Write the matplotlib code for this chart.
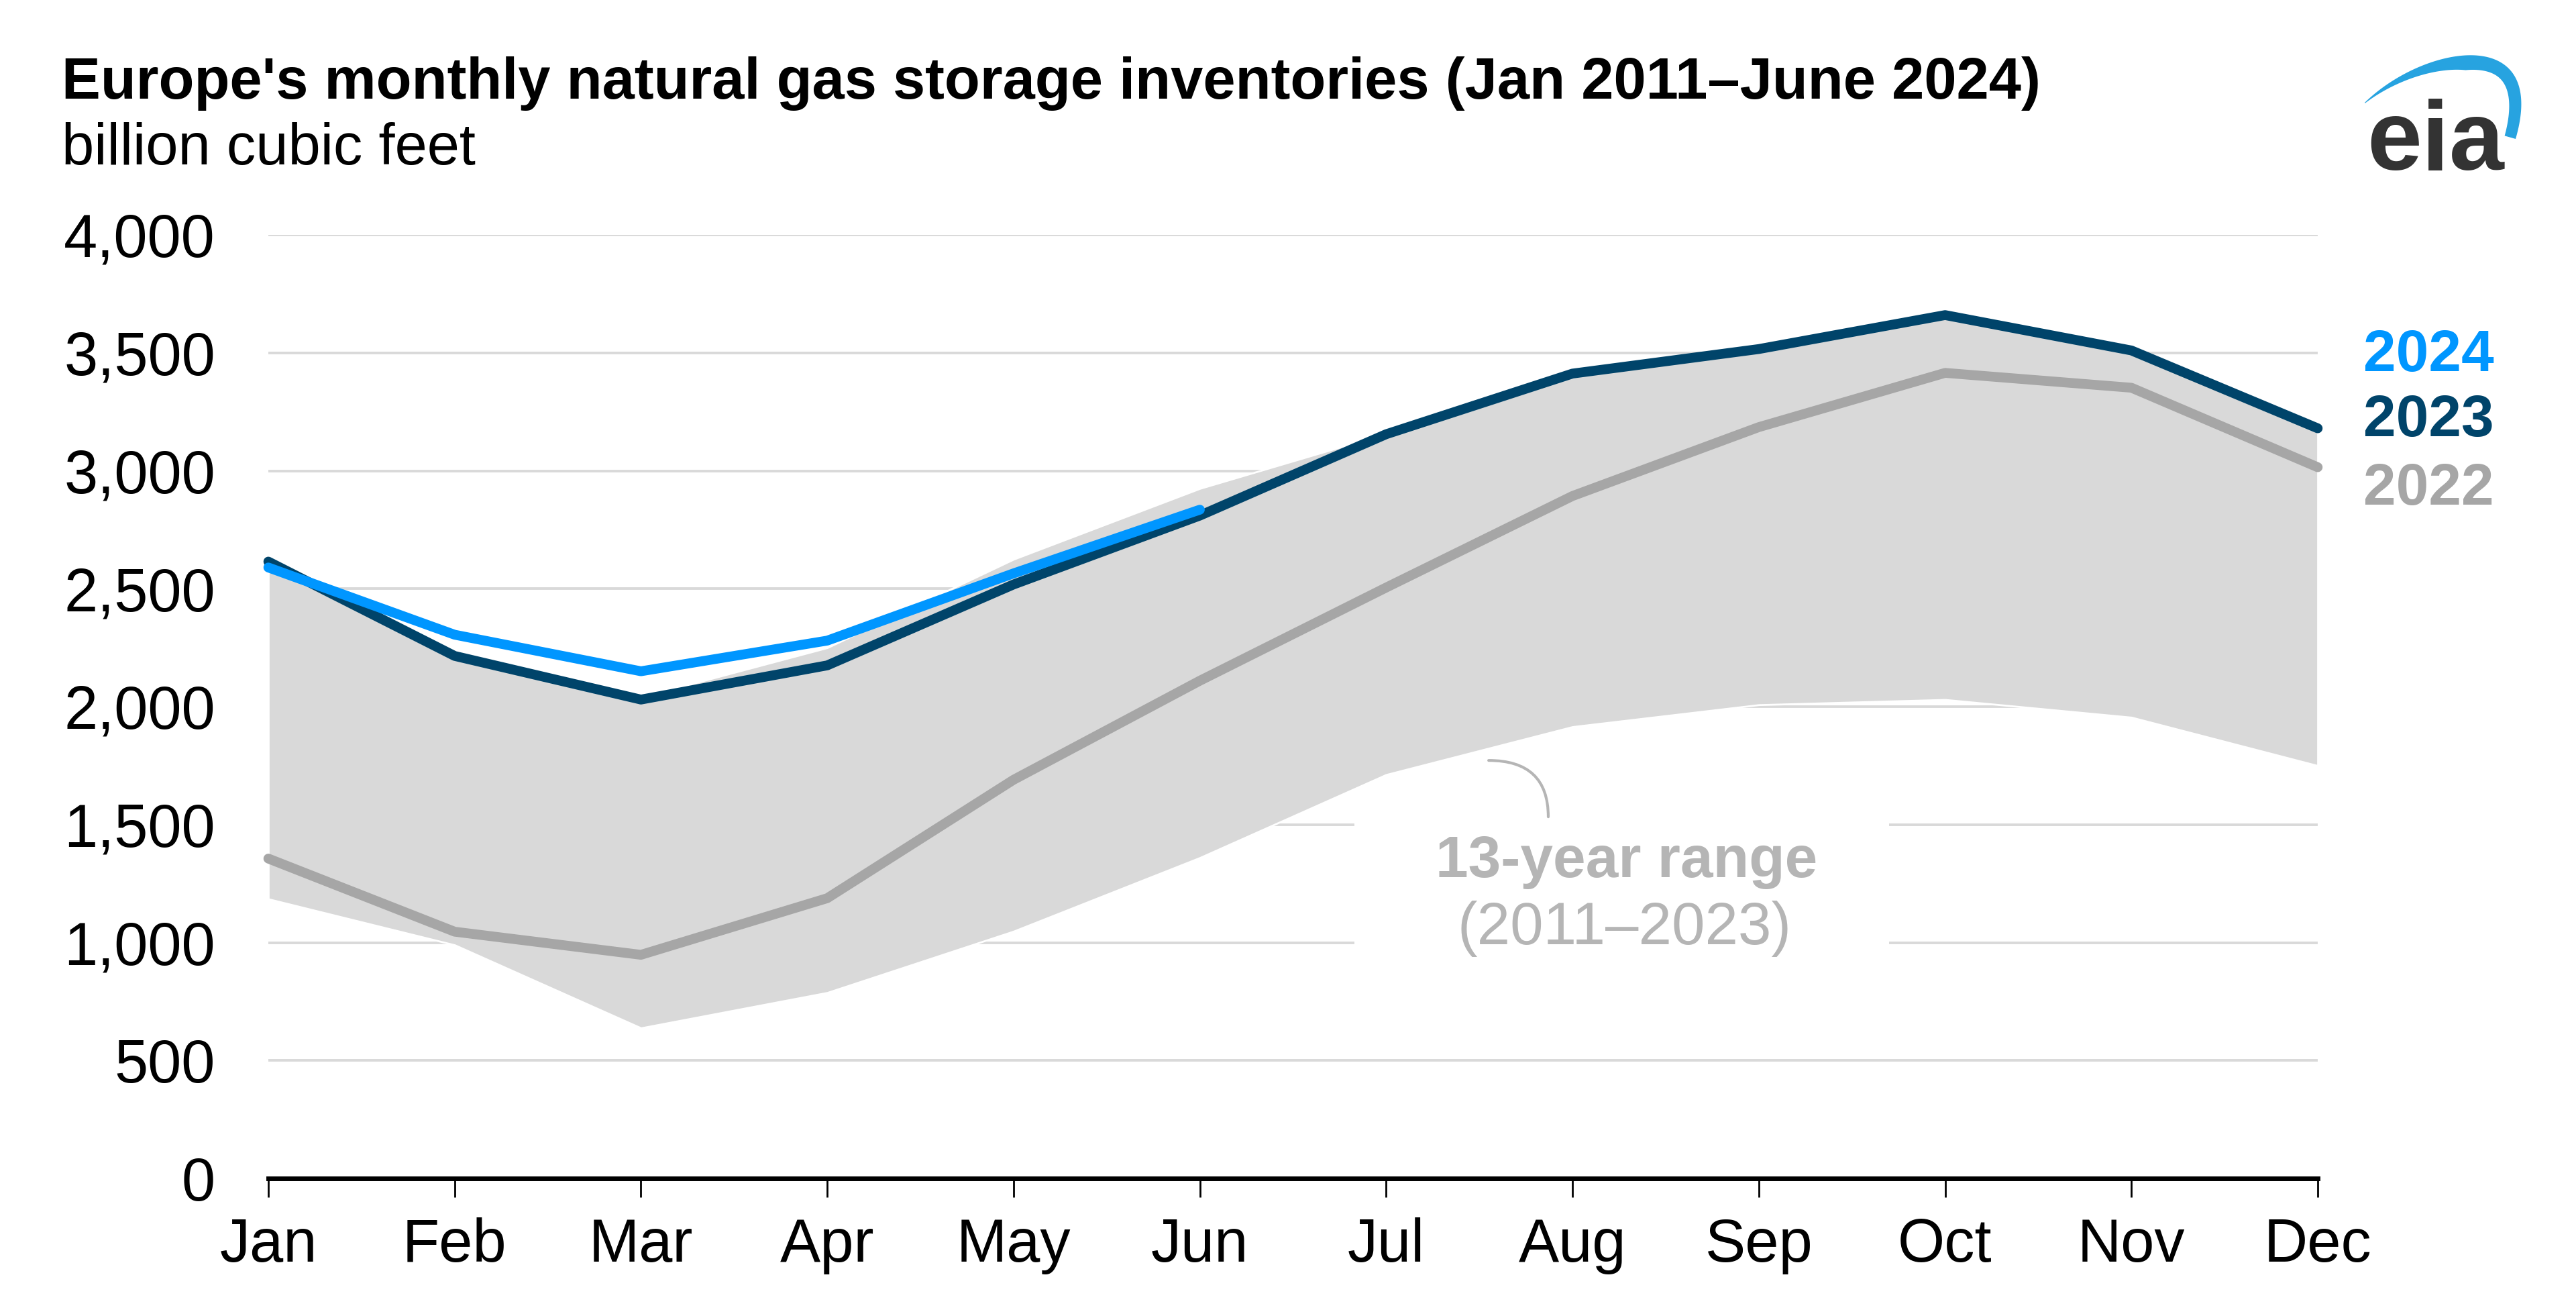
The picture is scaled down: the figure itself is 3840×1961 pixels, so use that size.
import numpy as np
import matplotlib
matplotlib.use('Agg')
from matplotlib import pyplot as plt
from matplotlib.patches import FancyArrowPatch, Rectangle, Polygon

plt.rcParams['font.family'] = ['Liberation Sans', 'DejaVu Sans']

months = ['Jan', 'Feb', 'Mar', 'Apr', 'May', 'Jun', 'Jul', 'Aug', 'Sep', 'Oct', 'Nov', 'Dec']

# billion cubic feet
storage_2024 = [2590, 2305, 2150, 2280, 2565, 2835]
storage_2023 = [2615, 2215, 2030, 2175, 2518, 2810, 3155, 3412, 3516, 3660, 3510, 3180]
storage_2022 = [1356, 1046, 948, 1188, 1690, 2110, 2505, 2893, 3185, 3415, 3352, 3015]
range_max = [2600, 2222, 2040, 2250, 2625, 2925, 3158, 3414, 3518, 3662, 3512, 3182]
range_min = [1185, 990, 638, 788, 1048, 1360, 1712, 1915, 2008, 2030, 1955, 1750]

yticks = [0, 500, 1000, 1500, 2000, 2500, 3000, 3500, 4000]

c2024 = '#0096ff'
c2023 = '#00446a'
c2022 = '#a6a6a6'
cband = '#d9d9d9'
cnote = '#b5b5b5'

fig = plt.figure(figsize=(38.4, 19.61), dpi=100)
ax = fig.add_axes([400/3840, 1 - 1756/1961, 3055/3840, 1406/1961])

x = np.arange(len(months))

# gridlines
for v in yticks[1:]:
    ax.axhline(v, color='#d9d9d9', lw=2.8, zorder=0.5)

# white patch that breaks the gridlines behind the note
ax.add_patch(Rectangle((5.83, 850), 2.87, 750, facecolor='white', edgecolor='none', zorder=0.8))

ax.fill_between(x, range_min, range_max, facecolor=cband, edgecolor='white', lw=2, zorder=1)

lw = 10.5
ax.plot(x, storage_2022, color=c2022, lw=lw, solid_capstyle='round', solid_joinstyle='round', zorder=3, clip_on=False)
ax.plot(x, storage_2023, color=c2023, lw=lw, solid_capstyle='round', solid_joinstyle='round', zorder=4, clip_on=False)
ax.plot(x[:len(storage_2024)], storage_2024, color=c2024, lw=lw, solid_capstyle='round', solid_joinstyle='round', zorder=5, clip_on=False)

ax.set_xlim(0, 11)
ax.set_ylim(0, 4000)
ax.set_xticks(x)
ax.set_xticklabels(months)
ax.set_yticks(yticks)
ax.set_yticklabels(['{:,}'.format(v) for v in yticks])

for s in ['top', 'right', 'left']:
    ax.spines[s].set_visible(False)
ax.spines['bottom'].set_linewidth(5)
ax.spines['bottom'].set_color('black')
ax.spines['bottom'].set_zorder(6)
ax.tick_params(axis='x', length=20, width=2, color='black', pad=22, labelsize=65)
ax.tick_params(axis='y', length=0, pad=57, labelsize=65)

# note on the range band
ax.text(7.29, 1277, '13-year range', fontsize=63, weight='bold', color=cnote, ha='center', va='baseline', zorder=7)
ax.text(7.28, 993, '(2011\u20132023)', fontsize=64, color=cnote, ha='center', va='baseline', zorder=7)
ax.add_patch(FancyArrowPatch((6.87, 1533), (6.55, 1772), arrowstyle='-',
                             connectionstyle='angle3,angleA=90,angleB=0',
                             color=cnote, lw=3, shrinkA=0, shrinkB=0, zorder=7))

# series labels on the right
fig.text(3523/3840, 1 - 553/1961, '2024', fontsize=63, weight='bold', color=c2024, va='baseline')
fig.text(3523/3840, 1 - 650/1961, '2023', fontsize=63, weight='bold', color=c2023, va='baseline')
fig.text(3523/3840, 1 - 752/1961, '2022', fontsize=63, weight='bold', color=c2022, va='baseline')

# title
fig.text(92/3840, 1 - 147/1961, "Europe's monthly natural gas storage inventories (Jan 2011\u2013June 2024)",
         fontsize=62.5, weight='bold', va='baseline')
fig.text(92/3840, 1 - 245/1961, 'billion cubic feet', fontsize=62.5, va='baseline')

# eia logo, drawn in pixel units
lax = fig.add_axes([3500/3840, 1 - 280/1961, 300/3840, 260/1961])
lax.set_xlim(0, 300)
lax.set_ylim(0, 260)
lax.axis('off')
lax.text(28, 27, 'eia', fontsize=106, weight='bold', color='#333333', va='baseline', ha='left')

# swoosh: outer edge is a cubic bezier, inner edge offset inward
t = np.linspace(0, 1, 150)[:, None]
p0, p1, p2, p3 = np.array([25, 127]), np.array([115, 215]), np.array([300, 245]), np.array([250, 73])
outer = (1-t)**3*p0 + 3*(1-t)**2*t*p1 + 3*(1-t)*t**2*p2 + t**3*p3
d = np.gradient(outer, axis=0)
d = d / np.linalg.norm(d, axis=1)[:, None]
normal = np.column_stack([d[:, 1], -d[:, 0]])
thick = np.interp(t[:, 0], [0, 0.45, 1], [1, 22, 17])
inner = outer + normal * thick[:, None]
lax.add_patch(Polygon(np.concatenate([outer, inner[::-1]]), closed=True, facecolor='#27a3e0', edgecolor='none'))

fig.savefig('out.png', dpi=100)
